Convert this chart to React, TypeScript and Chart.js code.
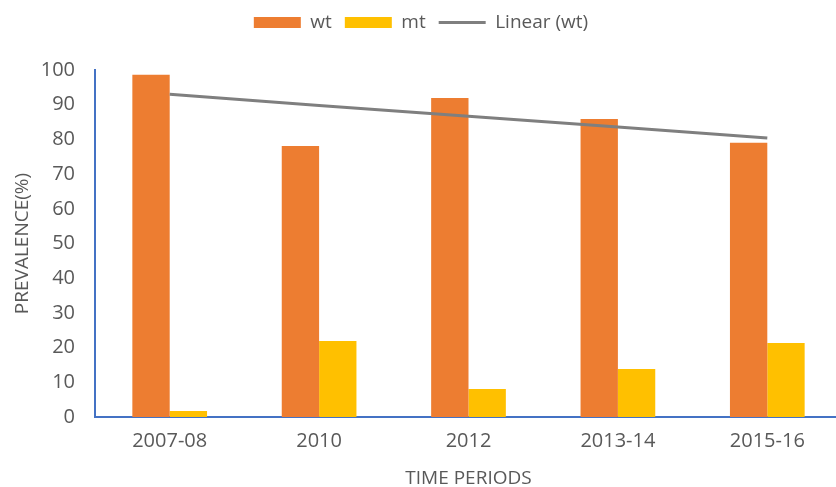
import React, { useEffect, useRef } from "react";
import { Chart, registerables } from "chart.js";

Chart.register(...registerables);

const categories = ["2007-08", "2010", "2012", "2013-14", "2015-16"];
const wtValues = [98.6, 78.1, 91.9, 85.9, 79.0];
const mtValues = [1.7, 21.9, 8.1, 13.8, 21.3];
const linearWtValues = [93.0, 89.8, 86.7, 83.6, 80.4];
const yTicks = [0, 10, 20, 30, 40, 50, 60, 70, 80, 90, 100];

const FONT = "'Open Sans', 'Liberation Sans', sans-serif";
const TEXT = "#595959";
const AXIS = "#4472C4";

const legendHeightPlugin = {
  id: "legendHeight",
  beforeInit(chart: any) {
    const legend = chart.legend;
    if (!legend) return;
    const orig = legend.fit;
    legend.fit = function () {
      orig.call(this);
      this.height = 70;
    };
  },
};

export default function App() {
  const ref = useRef<HTMLCanvasElement | null>(null);

  useEffect(() => {
    if (!ref.current) return;
    const chart = new Chart(ref.current, {
      type: "bar",
      data: {
        labels: categories,
        datasets: [
          {
            type: "bar",
            label: "wt",
            data: wtValues,
            backgroundColor: "#ED7D31",
            borderWidth: 0,
            order: 1,
            pointStyle: "rect",
            categoryPercentage: 0.5,
            barPercentage: 1.0,
          } as any,
          {
            type: "bar",
            label: "mt",
            data: mtValues,
            backgroundColor: "#FFC000",
            borderWidth: 0,
            order: 1,
            pointStyle: "rect",
            categoryPercentage: 0.5,
            barPercentage: 1.0,
          } as any,
          {
            type: "line",
            label: "Linear (wt)",
            data: linearWtValues,
            borderColor: "#7F7F7F",
            backgroundColor: "#7F7F7F",
            borderWidth: 3,
            pointRadius: 0,
            pointStyle: "line",
            order: 0,
            tension: 0,
          } as any,
        ],
      },
      options: {
        animation: false,
        responsive: false,
        maintainAspectRatio: false,
        layout: { padding: { top: 0, right: 0, bottom: 0, left: 0 } },
        plugins: {
          tooltip: { enabled: false },
          legend: {
            display: true,
            position: "top",
            labels: {
              usePointStyle: true,
              pointStyleWidth: 47,
              boxHeight: 11,
              boxWidth: 47,
              padding: 13,
              color: TEXT,
              font: { family: FONT, size: 19 },
              sort: (a: any, b: any) => a.datasetIndex - b.datasetIndex,
            },
          },
        },
        scales: {
          x: {
            grid: { display: false, drawTicks: false },
            border: { display: true, color: AXIS, width: 2 },
            ticks: {
              color: TEXT,
              font: { family: FONT, size: 20 },
              padding: 12,
              maxRotation: 0,
            },
            title: {
              display: true,
              text: "TIME PERIODS",
              color: TEXT,
              font: { family: FONT, size: 19 },
              padding: { top: 0, bottom: -3 },
            },
            afterFit: (scale: any) => {
              scale.height = 70;
            },
          },
          y: {
            min: 0,
            max: 100,
            grid: { display: false, drawTicks: false },
            border: { display: true, color: AXIS, width: 2 },
            afterBuildTicks: (scale: any) => {
              scale.ticks = yTicks.map((v) => ({ value: v }));
            },
            ticks: {
              color: TEXT,
              font: { family: FONT, size: 20 },
              padding: 20,
            },
            title: {
              display: true,
              text: "PREVALENCE(%)",
              color: TEXT,
              font: { family: FONT, size: 19 },
              padding: { top: 11, bottom: 0 },
            },
            afterFit: (scale: any) => {
              scale.width = 95;
            },
          },
        },
      },
      plugins: [legendHeightPlugin],
    });
    return () => chart.destroy();
  }, []);

  return (
    <div
      style={{
        position: "fixed",
        left: 0,
        top: 0,
        width: 836,
        height: 487,
        overflow: "hidden",
        background: "#ffffff",
      }}
    >
      <canvas ref={ref} width={842} height={487} style={{ display: "block" }} />
    </div>
  );
}
